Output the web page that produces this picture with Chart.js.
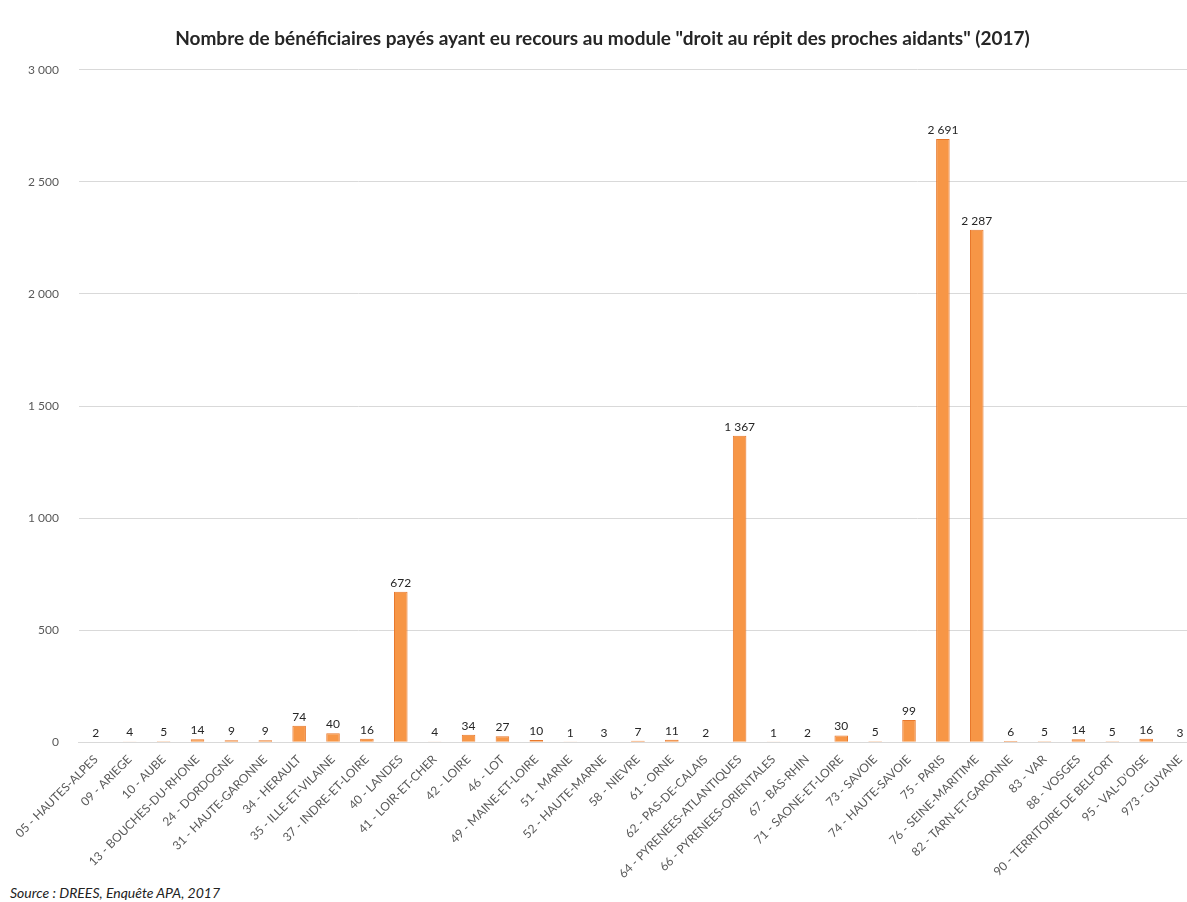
<!DOCTYPE html>
<html lang="fr">
<head>
<meta charset="utf-8">
<title>Droit au répit des proches aidants (2017)</title>
<script src="https://cdn.jsdelivr.net/npm/chart.js@4.4.1/dist/chart.umd.min.js"></script>
<style>
  html, body { margin: 0; padding: 0; background: #fff; overflow: hidden; }
  #wrap { position: relative; width: 1197px; height: 883px; }
  #source {
    position: absolute; left: 10px; top: 884px;
    font: italic 14px Lato, "Open Sans", sans-serif; color: #222;
  }
</style>
</head>
<body>
<div id="wrap"><canvas id="chart"></canvas></div>
<div id="source">Source : DREES, Enquête APA, 2017</div>
<script>
const departements = [
    '05 - HAUTES-ALPES', '09 - ARIEGE', '10 - AUBE', '13 - BOUCHES-DU-RHONE',
    '24 - DORDOGNE', '31 - HAUTE-GARONNE', '34 - HERAULT', '35 - ILLE-ET-VILAINE',
    '37 - INDRE-ET-LOIRE', '40 - LANDES', '41 - LOIR-ET-CHER', '42 - LOIRE',
    '46 - LOT', '49 - MAINE-ET-LOIRE', '51 - MARNE', '52 - HAUTE-MARNE',
    '58 - NIEVRE', '61 - ORNE', '62 - PAS-DE-CALAIS', '64 - PYRENEES-ATLANTIQUES',
    '66 - PYRENEES-ORIENTALES', '67 - BAS-RHIN', '71 - SAONE-ET-LOIRE', '73 - SAVOIE',
    '74 - HAUTE-SAVOIE', '75 - PARIS', '76 - SEINE-MARITIME', '82 - TARN-ET-GARONNE',
    '83 - VAR', '88 - VOSGES', '90 - TERRITOIRE DE BELFORT', "95 - VAL-D'OISE",
    '973 - GUYANE'
];
const beneficiaires = [
    2, 4, 5, 14, 9, 9, 74, 40, 16, 672, 4, 34, 27, 10, 1, 3,
    7, 11, 2, 1367, 1, 2, 30, 5, 99, 2691, 2287, 6, 5, 14, 5, 16, 3
];
const yTicks = [0, 500, 1000, 1500, 2000, 2500, 3000];

const fmt = v => String(v).replace(/\B(?=(\d{3})+(?!\d))/g, ' ');
const FONT = 'Lato, "Open Sans", sans-serif';

// labels above bars, Excel style
const valueLabels = {
    id: 'valueLabels',
    afterDatasetsDraw(chart) {
        const ctx = chart.ctx;
        const meta = chart.getDatasetMeta(0);
        ctx.save();
        ctx.font = '12px ' + FONT;
        ctx.fillStyle = '#262626';
        ctx.textAlign = 'center';
        ctx.textBaseline = 'bottom';
        meta.data.forEach((bar, i) => {
            ctx.fillText(fmt(beneficiaires[i]), bar.x, bar.y - 3);
        });
        ctx.restore();
    }
};

new Chart(document.getElementById('chart'), {
    type: 'bar',
    data: {
        labels: departements,
        datasets: [{
            data: beneficiaires,
            backgroundColor: '#F79646',
            borderColor: '#E8782C',
            borderWidth: 1,
            barPercentage: 0.4,
            categoryPercentage: 1
        }]
    },
    options: {
        responsive: true,
        maintainAspectRatio: false,
        animation: false,
        layout: { padding: { left: 8, right: 0, bottom: 0 } },
        plugins: {
            legend: { display: false },
            tooltip: { enabled: false },
            title: {
                display: true,
                text: 'Nombre de bénéficiaires payés ayant eu recours au module "droit au répit des proches aidants" (2017)',
                color: '#262626',
                font: { family: FONT, size: 19, weight: 'bold' },
                padding: { top: 27, bottom: 20 }
            }
        },
        scales: {
            y: {
                min: 0,
                max: 3000,
                afterBuildTicks: axis => { axis.ticks = yTicks.map(v => ({ value: v })); },
                grid: { color: '#d9d9d9', drawTicks: false },
                border: { display: false },
                ticks: {
                    color: '#595959',
                    font: { family: FONT, size: 12 },
                    padding: 20,
                    callback: v => fmt(v)
                }
            },
            x: {
                grid: { display: false },
                border: { color: '#d9d9d9' },
                ticks: {
                    color: '#595959',
                    font: { family: FONT, size: 12 },
                    minRotation: 45,
                    maxRotation: 45,
                    autoSkip: false,
                    padding: 2
                }
            }
        }
    },
    plugins: [valueLabels]
});
</script>
</body>
</html>
